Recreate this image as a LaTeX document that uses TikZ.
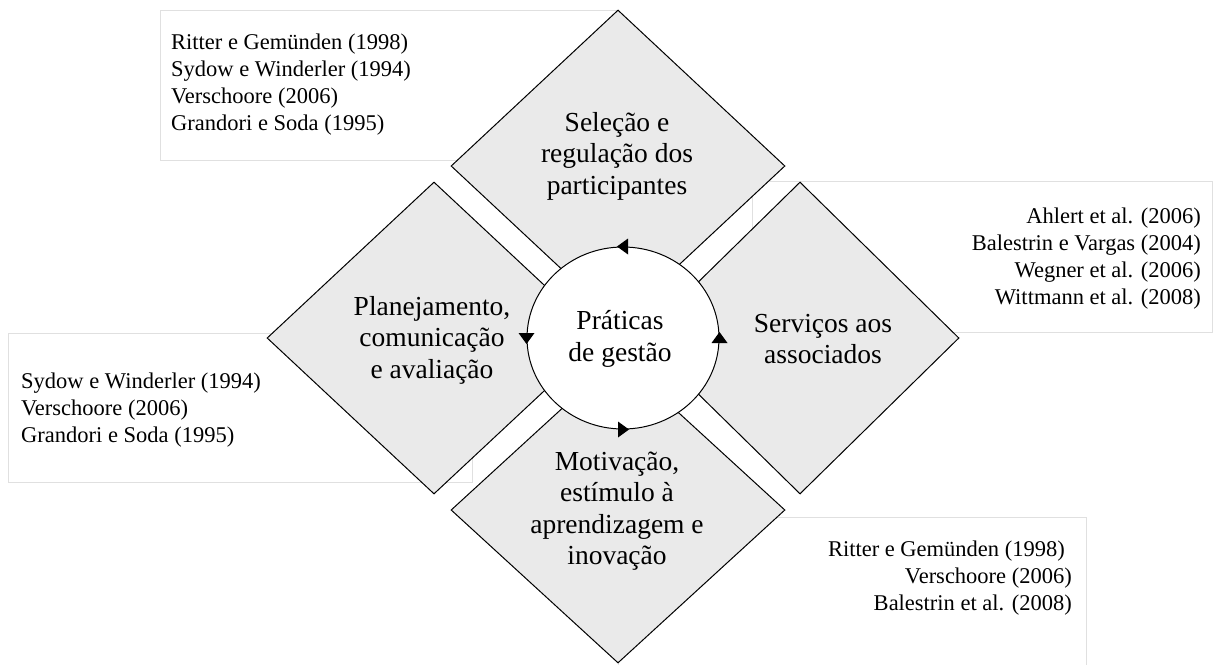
\documentclass[tikz,border=0pt]{standalone}
\usepackage{fontspec}
\setmainfont{Liberation Serif}
\usetikzlibrary{shapes.geometric}
\definecolor{dfill}{HTML}{EAEAEA}
\definecolor{bline}{HTML}{E0E0E0}
\begin{document}
\begin{tikzpicture}[x=1pt,y=-1pt,
  cite/.style={font=\fontsize{22.5}{27}\selectfont, inner sep=0pt},
  dtext/.style={font=\fontsize{27.5}{31.5}\selectfont, align=center, inner sep=0pt},
  citebox/.style={draw=bline, line width=1pt, fill=white},
  dia/.style={diamond, draw=black, line width=1pt, fill=dfill, inner sep=0pt},
  tip/.style={fill=black}]
\useasboundingbox (0,0) rectangle (1214,664);
% citation boxes
\path[citebox] (160,10) rectangle (617,160);
\path[citebox] (752,181) rectangle (1212,332);
\path[citebox] (8,333) rectangle (472,482);
\path[citebox] (618,517) rectangle (1086,690);
% diamonds
\node[dia, minimum width=334pt, minimum height=312pt] (sel) at (618,166) {};
\node[dia, minimum width=334pt, minimum height=312pt] (plan) at (434,338) {};
\node[dia, minimum width=318pt, minimum height=312pt] (serv) at (800,338) {};
\node[dia, minimum width=334pt, minimum height=306pt] (motiv) at (618,510) {};
% hub
\node[ellipse, draw=black, line width=1pt, fill=white, inner sep=0pt,
      minimum width=192pt, minimum height=182pt] (hub) at (623,338) {};
\node[dtext] (hubtext) at (620,339) {Práticas\\de gestão};
% arrowheads on the hub
\fill[tip] ([xshift=-6pt]hub.north) -- ([xshift=5pt,yshift=8pt]hub.north) -- ([xshift=5pt,yshift=-8pt]hub.north) -- cycle;
\fill[tip] ([yshift=-6pt]hub.west) -- ([xshift=-8pt,yshift=5pt]hub.west) -- ([xshift=8pt,yshift=5pt]hub.west) -- cycle;
\fill[tip] ([xshift=6pt]hub.south) -- ([xshift=-5pt,yshift=8pt]hub.south) -- ([xshift=-5pt,yshift=-8pt]hub.south) -- cycle;
\fill[tip] ([yshift=6pt]hub.east) -- ([xshift=-8pt,yshift=-5pt]hub.east) -- ([xshift=8pt,yshift=-5pt]hub.east) -- cycle;
% diamond texts
\node[dtext] (seltext) at (617,156) {Seleção e\\regulação dos\\participantes};
\node[dtext] (plantext) at (432,340) {Planejamento,\\comunicação\\e avaliação};
\node[dtext] (servtext) at (823,339) {Serviços aos\\associados};
\node[dtext] (motivtext) at (617,511) {Motivação,\\estímulo à\\aprendizagem e\\inovação};
% citations
\node[cite, anchor=west, align=left] (c1) at (171,85) {Ritter e Gemünden (1998)\\Sydow e Winderler (1994)\\Verschoore (2006)\\Grandori e Soda (1995)};
\node[cite, anchor=east, align=right] (c2) at (1201,259) {Ahlert et al. (2006)\\Balestrin e Vargas (2004)\\Wegner et al. (2006)\\Wittmann et al. (2008)};
\node[cite, anchor=west, align=left] (c3) at (21,410) {Sydow e Winderler (1994)\\Verschoore (2006)\\Grandori e Soda (1995)};
\node[cite, anchor=east, align=right] (c4) at (1072,578) {Ritter e Gemünden (1998)\rule{7pt}{0pt}\\Verschoore (2006)\\Balestrin et al. (2008)};
\end{tikzpicture}
\end{document}
